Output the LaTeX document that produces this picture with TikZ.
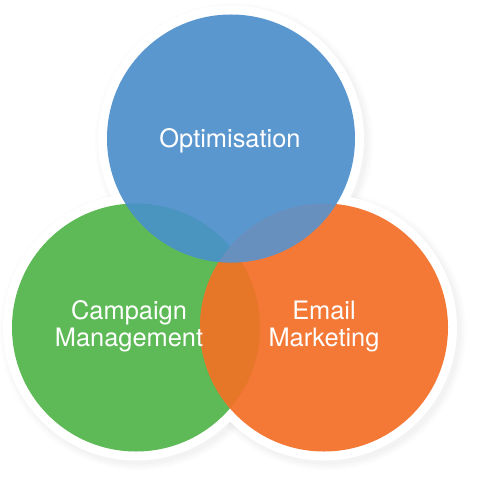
\documentclass[tikz,border=0pt]{standalone}
\usepackage{fontspec}
\setmainfont{TeX Gyre Heros}
\definecolor{cblue}{RGB}{91,151,207}
\definecolor{cgreen}{RGB}{93,186,86}
\definecolor{corange}{RGB}{244,120,54}
\definecolor{cbg}{RGB}{74,148,192}
\definecolor{cbo}{RGB}{104,144,190}
\definecolor{cgo}{RGB}{230,118,40}
\begin{document}
\begin{tikzpicture}[x=1bp,y=-1bp,
  halo/.style={circle,fill=white,minimum size=266bp,inner sep=0pt},
  shade1/.style={circle,fill=black,fill opacity=0.012,minimum size=#1,inner sep=0pt},
  disc/.style={circle,minimum size=248bp,inner sep=0pt},
  lbl/.style={text=white,align=center,font=\fontsize{25.5}{27}\selectfont}]
\fill[white] (0,0) rectangle (480,480);
\useasboundingbox (0,0) rectangle (480,480);
% soft shadows
\foreach \s in {278bp,274bp,270bp,267bp}{
  \node[shade1=\s] at (234,142) {};
  \node[shade1=\s] at (139,331) {};
  \node[shade1=\s] at (327,331) {};
}
% white halos
\node[halo] (hb) at (231,138.5) {};
\node[halo] (hg) at (136,327.5) {};
\node[halo] (ho) at (324,327.5) {};
% coloured discs
\node[disc,fill=cgreen] (green) at (136,327.5) {};
\node[disc,fill=corange] (orange) at (324,327.5) {};
\node[disc,fill=cblue] (blue) at (231,138.5) {};
% overlaps
\begin{scope}
  \clip (green.center) circle (124bp);
  \fill[cgo] (orange.center) circle (124bp);
\end{scope}
\begin{scope}
  \clip (blue.center) circle (124bp);
  \fill[cbg] (green.center) circle (124bp);
  \fill[cbo] (orange.center) circle (124bp);
\end{scope}
% labels
\node[lbl,anchor=base] (t1) at (230,148) {Optimisation};
\node[lbl,anchor=base] (t2) at (129,346) {Campaign\\Management};
\node[lbl,anchor=base] (t3) at (324,346) {Email\\Marketing};
\end{tikzpicture}
\end{document}
